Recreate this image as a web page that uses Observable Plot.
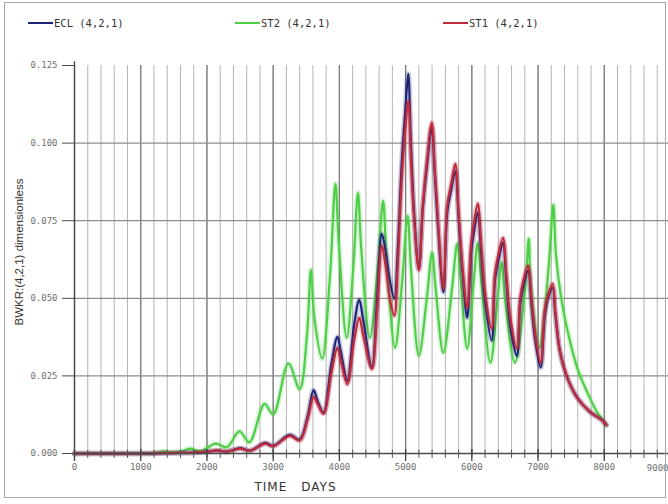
<!DOCTYPE html>
<html>
<head>
<meta charset="utf-8">
<script src="https://cdn.jsdelivr.net/npm/d3@7"></script>
<script src="https://cdn.jsdelivr.net/npm/@observablehq/plot@0.6"></script>
<style>
  html, body { margin: 0; padding: 0; background: #fff; overflow: hidden; }
  #fig { position: relative; width: 668px; height: 504px; background: #fff; }
  #frame { position: absolute; left: 4px; top: 2px; width: 662px; height: 496px;
           border: 1.5px solid #a8a8a8; box-sizing: border-box; pointer-events: none; }
  #legend { position: absolute; left: 0; top: 0; width: 668px; height: 40px;
            font-family: "DejaVu Sans Mono", monospace; font-size: 10.5px; color: #333; }
  .item { position: absolute; top: 17px; display: flex; align-items: center; white-space: pre; }
  .swatch { width: 25px; height: 2px; margin-right: 1px; }
  #chart { position: absolute; left: 0; top: 40px; }
</style>
</head>
<body>
<div id="fig">
  <div id="legend"></div>
  <div id="chart"></div>
  <div id="frame"></div>
</div>
<script>
// Water production rate BWKR at cell (4,2,1) for three runs
const seriesNames = ["ECL (4,2,1)", "ST2 (4,2,1)", "ST1 (4,2,1)"];
const seriesColors = ["#1d2478", "#4fcf48", "#bf2a3c"];

// ECL and ST1 share the same report days
const days = [0, 1000, 1300, 1600, 1800, 2050, 2150, 2300, 2500, 2650, 2880, 3000, 3250, 3400,
  3520, 3610, 3670, 3760, 3880, 3970, 4020, 4120, 4220, 4300, 4360, 4490, 4570, 4640, 4700, 4760,
  4830, 4880, 4940, 5000, 5040, 5080, 5130, 5200, 5260, 5320, 5395, 5440, 5490, 5570, 5630, 5690,
  5750, 5800, 5860, 5930, 5990, 6030, 6090, 6140, 6200, 6300, 6350, 6400, 6470, 6520, 6580, 6680,
  6730, 6780, 6850, 6900, 6960, 7040, 7100, 7150, 7220, 7260, 7330, 7440, 7590, 7780, 7980, 8030];

const ecl = [0, 0, 0.0001, 0.0002, 0.0003, 0.0007, 0.0010, 0.0006, 0.0017, 0.0009, 0.0034, 0.0025, 0.0060, 0.0045,
  0.0120, 0.0204, 0.0170, 0.0132, 0.0290, 0.0376, 0.0330, 0.0235, 0.0410, 0.0495, 0.0430, 0.0278, 0.0500, 0.0708, 0.0650, 0.0560,
  0.0499, 0.0650, 0.0930, 0.1120, 0.1223, 0.1000, 0.0770, 0.0595, 0.0790, 0.0920, 0.1050, 0.0900, 0.0730, 0.0520, 0.0780, 0.0850,
  0.0910, 0.0760, 0.0580, 0.0438, 0.0650, 0.0710, 0.0776, 0.0650, 0.0490, 0.0364, 0.0560, 0.0620, 0.0679, 0.0560, 0.0410, 0.0315,
  0.0480, 0.0540, 0.0589, 0.0480, 0.0360, 0.0277, 0.0440, 0.0500, 0.0534, 0.0450, 0.0330, 0.0245, 0.0180, 0.0135, 0.0105, 0.0092];

const st1 = [0, 0, 0.0001, 0.0002, 0.0003, 0.0007, 0.0010, 0.0006, 0.0016, 0.0009, 0.0032, 0.0023, 0.0057, 0.0042,
  0.0110, 0.0182, 0.0160, 0.0128, 0.0260, 0.0340, 0.0300, 0.0223, 0.0360, 0.0437, 0.0380, 0.0272, 0.0460, 0.0670, 0.0600, 0.0500,
  0.0444, 0.0600, 0.0880, 0.1060, 0.1136, 0.0950, 0.0750, 0.0590, 0.0800, 0.0940, 0.1066, 0.0920, 0.0750, 0.0530, 0.0800, 0.0870,
  0.0933, 0.0780, 0.0600, 0.0470, 0.0680, 0.0740, 0.0805, 0.0680, 0.0520, 0.0402, 0.0580, 0.0640, 0.0695, 0.0580, 0.0440, 0.0338,
  0.0500, 0.0560, 0.0605, 0.0500, 0.0380, 0.0293, 0.0460, 0.0510, 0.0547, 0.0460, 0.0330, 0.0245, 0.0180, 0.0135, 0.0105, 0.0092];

// ST2 has its own report days
const st2Days = [0, 1000, 1200, 1340, 1450, 1600, 1750, 1900, 2130, 2300, 2490, 2640, 2870, 3000, 3230, 3400,
  3510, 3570, 3620, 3740, 3860, 3940, 3990, 4110, 4210, 4280, 4330, 4460, 4580, 4660, 4710, 4840,
  4950, 5030, 5080, 5200, 5320, 5400, 5450, 5570, 5700, 5780, 5830, 5930, 6030, 6090, 6140, 6280,
  6390, 6450, 6500, 6650, 6800, 6860, 6890, 7020, 7160, 7230, 7270, 7350, 7440, 7600, 7780, 7900, 8030];

const st2 = [0, 0, 0.0001, 0.0007, 0.0004, 0.0006, 0.0016, 0.0007, 0.0032, 0.0020, 0.0071, 0.0036, 0.0160, 0.0126, 0.0290, 0.0207,
  0.0380, 0.0592, 0.0440, 0.0306, 0.0580, 0.0869, 0.0680, 0.0373, 0.0600, 0.0840, 0.0660, 0.0373, 0.0600, 0.0814, 0.0640, 0.0341,
  0.0560, 0.0766, 0.0600, 0.0315, 0.0500, 0.0647, 0.0540, 0.0325, 0.0530, 0.0676, 0.0560, 0.0338, 0.0560, 0.0679, 0.0560, 0.0293,
  0.0500, 0.0615, 0.0500, 0.0293, 0.0520, 0.0692, 0.0540, 0.0341, 0.0600, 0.0801, 0.0640, 0.0500, 0.0400, 0.0270, 0.0180, 0.0130, 0.0092];

// Axis ticks
const xMinor = d3.range(0, 9001, 200);
const xMajor = d3.range(0, 9001, 1000);
const xLabels = d3.range(0, 8001, 1000);
const yTicks = [0, 0.025, 0.05, 0.075, 0.1, 0.125];
const yGrid = [0.025, 0.05, 0.075, 0.1];

const toRows = (xs, vs) => xs.map((d, i) => ({day: d, value: vs[i]}));
const eclRows = toRows(days, ecl);
const st1Rows = toRows(days, st1);
const st2Rows = toRows(st2Days, st2);

// Legend row
const legend = document.getElementById("legend");
const legendLeft = [28, 235, 443];
seriesNames.forEach((name, i) => {
  const item = document.createElement("div");
  item.className = "item";
  item.style.left = legendLeft[i] + "px";
  const sw = document.createElement("span");
  sw.className = "swatch";
  sw.style.background = seriesColors[i];
  const label = document.createElement("span");
  label.textContent = name;
  item.append(sw, label);
  legend.append(item);
});

const tickFont = {fontFamily: "DejaVu Sans Mono, monospace", fontSize: 9, fill: "#707070"};

function seriesLine(rows, color) {
  return [
    Plot.line(rows, {x: "day", y: "value", stroke: color, strokeWidth: 5.5, strokeOpacity: 0.22, curve: "catmull-rom"}),
    Plot.line(rows, {x: "day", y: "value", stroke: color, strokeWidth: 2.2, curve: "catmull-rom"})
  ];
}

const chart = Plot.plot({
  width: 668,
  height: 464,
  marginLeft: 74,
  marginRight: -2,
  marginTop: 25,
  marginBottom: 51,
  x: {domain: [0, 9000]},
  y: {domain: [0, 0.125]},
  style: {background: "transparent", overflow: "visible"},
  marks: [
    // grid
    Plot.ruleX(xMinor, {y1: 0, y2: 0.125, stroke: "#b4b4b4", strokeWidth: 1}),
    Plot.ruleX(xMajor, {y1: 0, y2: 0.125, stroke: "#7c7c7c", strokeWidth: 1.3}),
    Plot.ruleY(yGrid, {x1: 0, x2: 9000, stroke: "#8e8e8e", strokeWidth: 1.3}),
    // series
    ...seriesLine(st2Rows, seriesColors[1]),
    ...seriesLine(eclRows, seriesColors[0]),
    ...seriesLine(st1Rows, seriesColors[2]),
    // axes
    Plot.ruleY([0], {x1: 0, x2: 9000, stroke: "#4a4a4a", strokeWidth: 1.3}),
    Plot.ruleX([0], {y1: -0.0017, y2: 0.1262, stroke: "#4a4a4a", strokeWidth: 1.3}),
    Plot.ruleX(xMinor, {y1: -0.0016, y2: 0.0011, stroke: "#555", strokeWidth: 1}),
    Plot.ruleX(xMajor, {y1: -0.0026, y2: 0.0013, stroke: "#444", strokeWidth: 1.3}),
    Plot.axisX(xLabels, {tickSize: 0, tickPadding: 10, tickFormat: d => String(d), label: null, ...tickFont}),
    Plot.text([9000], {x: d => d, y: 0, text: d => String(d), textAnchor: "end", dx: -2, dy: 15, ...tickFont}),
    Plot.axisY(yTicks, {tickSize: 12, tickPadding: 5, tickFormat: d3.format(".3f"), stroke: "#4a4a4a", label: null, ...tickFont}),
    Plot.text(["BWKR:(4,2,1)\u00a0dimensionless"], {frameAnchor: "left", rotate: -90, dx: -55, dy: 66,
      fontFamily: "Liberation Sans, Arial, sans-serif", fontSize: 11.5, fill: "#333"}),
    Plot.text(["TIME\u2002\u2002DAYS"], {frameAnchor: "bottom-left", dx: 221, dy: 37, textAnchor: "middle",
      fontFamily: "DejaVu Sans, sans-serif", fontSize: 12, fill: "#333"})
  ]
});

// Wider letter spacing on the time axis title
d3.select(chart).selectAll("text").filter(function () { return this.textContent.startsWith("TIME"); })
  .style("letter-spacing", "1px");

document.getElementById("chart").append(chart);
</script>
</body>
</html>
